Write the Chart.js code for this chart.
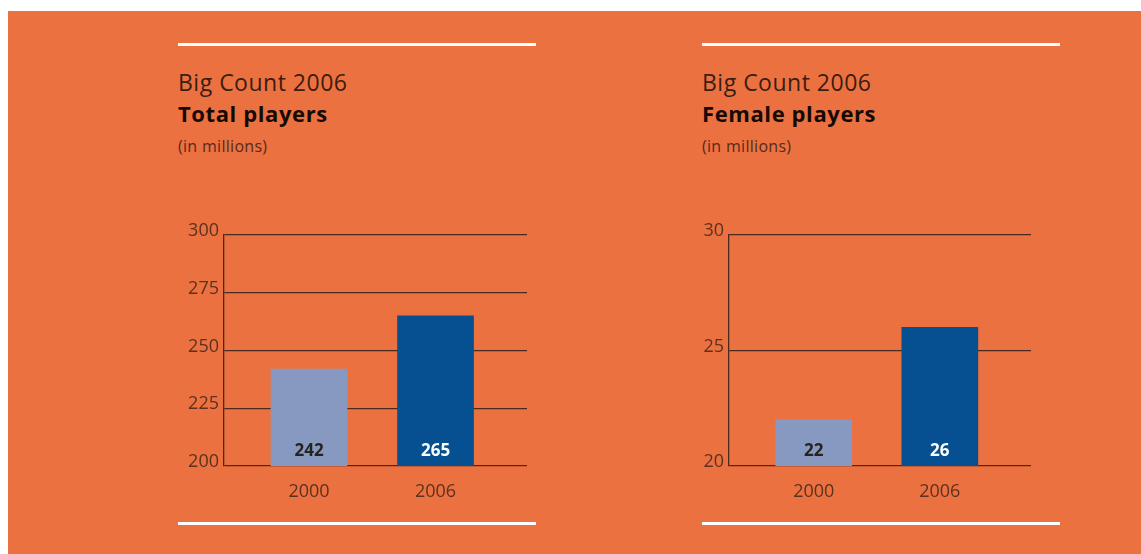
<!DOCTYPE html>
<html>
<head>
<meta charset="utf-8">
<script src="https://cdn.jsdelivr.net/npm/chart.js@4.4.1/dist/chart.umd.min.js"></script>
<style>
  html, body { margin: 0; padding: 0; background: #fff; }
  body { width: 1141px; height: 554px; position: relative; overflow: hidden; font-family: "Open Sans", sans-serif; }
  #bg { position: absolute; left: 8px; top: 11px; right: 0; bottom: 0; background: #ec7140; }
  .rule { position: absolute; height: 3px; background: #fff; width: 358px; }
  .t1 { position: absolute; font-size: 23px; line-height: 23px; letter-spacing: 0.5px; color: #3a1e12; white-space: nowrap; }
  .t2 { position: absolute; font-size: 22px; line-height: 22px; letter-spacing: 0.6px; font-weight: 700; color: #160a05; white-space: nowrap; }
  .t3 { position: absolute; font-size: 16px; line-height: 16px; letter-spacing: 0.3px; color: #57291a; white-space: nowrap; }
  canvas { position: absolute; top: 215px; }
</style>
</head>
<body>
<div id="bg"></div>

<div class="rule" style="left:178px; top:43px"></div>
<div class="rule" style="left:178px; top:522px"></div>
<div class="rule" style="left:702px; top:43px"></div>
<div class="rule" style="left:702px; top:522px"></div>

<div class="t1" style="left:178px; top:71px">Big Count 2006</div>
<div class="t2" style="left:178px; top:102px">Total players</div>
<div class="t3" style="left:178px; top:138px">(in millions)</div>

<div class="t1" style="left:702px; top:71px">Big Count 2006</div>
<div class="t2" style="left:702px; top:102px">Female players</div>
<div class="t3" style="left:702px; top:138px">(in millions)</div>

<canvas id="totalChart" width="357" height="295" style="left:170px"></canvas>
<canvas id="femaleChart" width="356" height="295" style="left:675px"></canvas>

<script>
const categories = ['2000', '2006'];
const totalPlayers = [242, 265];
const femalePlayers = [22, 26];
const totalTicks = [200, 225, 250, 275, 300];
const femaleTicks = [20, 25, 30];

const barColors = ['#8799c0', '#064f91'];
const valueColors = ['#26231f', '#ffffff'];
const lineColor = '#4a2a1c';
const tickColor = '#5c3120';

// numbers written inside the bottom of each bar
const valueLabels = {
  id: 'valueLabels',
  afterDatasetsDraw(chart) {
    const ctx = chart.ctx;
    const values = chart.data.datasets[0].data;
    const bottom = chart.scales.y.getPixelForValue(chart.scales.y.min);
    ctx.save();
    ctx.font = 'bold 17px "Open Sans"';
    ctx.textAlign = 'center';
    ctx.textBaseline = 'middle';
    chart.getDatasetMeta(0).data.forEach((bar, i) => {
      ctx.fillStyle = valueColors[i];
      ctx.fillText(String(values[i].y), bar.x, bottom - 15);
    });
    ctx.restore();
  }
};

function makeChart(id, values, ticks) {
  const ctx = document.getElementById(id).getContext('2d');
  return new Chart(ctx, {
    type: 'bar',
    data: {
      datasets: [{
        data: values.map((v, i) => ({ x: i, y: v })),
        backgroundColor: barColors,
        barThickness: 76,
      }]
    },
    options: {
      responsive: false,
      animation: false,
      devicePixelRatio: 1,
      layout: { padding: { top: 20, right: 0, left: 0, bottom: 0 } },
      plugins: { legend: { display: false }, tooltip: { enabled: false } },
      scales: {
        x: {
          type: 'linear',
          offset: false,
          min: -0.672,
          max: 1.723,
          grid: { display: false, offset: false },
          border: { display: false },
          afterBuildTicks: (scale) => { scale.ticks = categories.map((c, i) => ({ value: i })); },
          afterFit: (scale) => { scale.height = 44; },
          ticks: {
            padding: 7,
            color: tickColor,
            font: { family: '"Open Sans"', size: 18 },
            callback: (v) => categories[v],
            maxRotation: 0,
          }
        },
        y: {
          min: ticks[0],
          max: ticks[ticks.length - 1],
          afterBuildTicks: (scale) => { scale.ticks = ticks.map(v => ({ value: v })); },
          afterFit: (scale) => { scale.width = 54; },
          grid: { color: lineColor, lineWidth: 1.3, drawTicks: false },
          border: { display: true, color: lineColor, width: 1.3 },
          ticks: {
            padding: 5,
            labelOffset: -4,
            color: tickColor,
            font: { family: '"Open Sans"', size: 18 },
          }
        }
      }
    },
    plugins: [valueLabels]
  });
}

makeChart('totalChart', totalPlayers, totalTicks);
makeChart('femaleChart', femalePlayers, femaleTicks);
</script>
</body>
</html>
